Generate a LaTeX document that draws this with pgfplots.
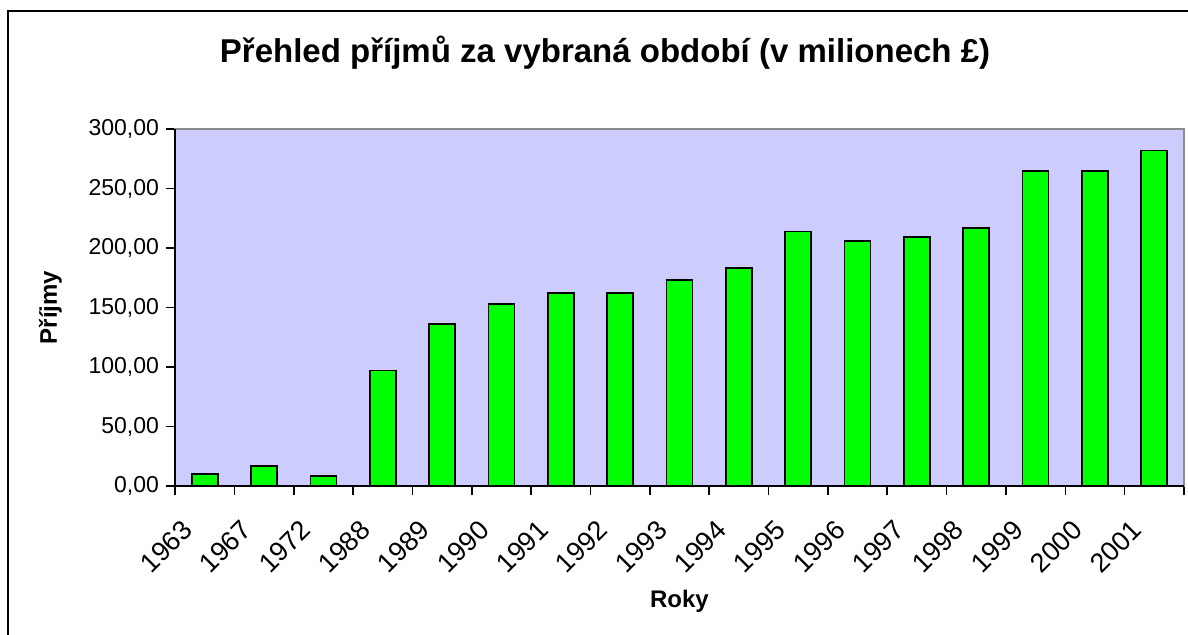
\documentclass[border=0pt]{standalone}
\usepackage{fontspec}
\setmainfont{Liberation Sans}
\usepackage{pgfplots}
\pgfplotsset{compat=1.18}
\definecolor{plotbg}{HTML}{CCCCFF}
\definecolor{barfill}{HTML}{00FF00}

\pgfplotstableread{
x year value
0 1963 10
1 1967 17
2 1972 8.5
3 1988 97
4 1989 136
5 1990 153
6 1991 162
7 1992 162
8 1993 173
9 1994 183
10 1995 214
11 1996 206
12 1997 209
13 1998 217
14 1999 265
15 2000 265
16 2001 282
}\prijmy

\begin{document}
\begin{tikzpicture}
% 1 px of the reference = 0.5pt; axis origin at px (175,486)
\useasboundingbox (-87.5pt,-74pt) rectangle (506.5pt,243pt);
\begin{axis}[
    scale only axis,
    width=504.5pt, height=178.5pt,
    xmin=-0.5, xmax=16.5,
    ymin=0, ymax=300,
    ytick={0,50,...,300},
    % ticks sit on the category borders, each label is moved to the middle of its category
    xtick={-0.5,0.5,...,16.5},
    xticklabels={1963,1967,1972,1988,1989,1990,1991,1992,1993,1994,1995,1996,1997,1998,1999,2000,2001,{}},
    x tick label style={font=\fontsize{13.5}{15}\selectfont, inner sep=0pt,
        xshift=6.3pt, yshift=-15pt, rotate=45, anchor=east},
    tick pos=left,
    tick align=outside,
    major tick length=4.5pt,
    tick style={black, line width=0.8pt},
    axis line style={draw=gray!90, line width=0.8pt},
    axis background/.style={fill=plotbg},
    /pgf/number format/assume math mode=true,
    y tick label style={font=\fontsize{11.5}{13}\selectfont,
      /pgf/number format/.cd, fixed, fixed zerofill, precision=2, use comma},
    xlabel={Roky},
    ylabel={Příjmy},
    xlabel style={font=\bfseries\fontsize{12}{14}\selectfont,
      at={(axis description cs:0.5,-0.339)}, anchor=base},
    ylabel style={font=\bfseries\fontsize{12}{14}\selectfont,
      at={(axis description cs:-0.117,0.5)}, anchor=base, rotate=0},
    title={Přehled příjmů za vybraná období (v milionech £)},
    title style={font=\bfseries\fontsize{16.5}{19}\selectfont,
      at={(axis description cs:0.4262,1.152)}, anchor=base},
    clip=false,
]
\addplot[ybar, bar width=0.438, fill=barfill, draw=black, line width=0.85pt]
  table[x=x, y=value] {\prijmy};
\draw[black, line width=1pt] (rel axis cs:0,1) -- (rel axis cs:0,0) -- (rel axis cs:1,0);
\end{axis}
\begin{scope}
\clip (-87.5pt,-74pt) rectangle (506.5pt,243pt);
\draw[black, line width=1pt] (-83.5pt,237.5pt) rectangle (530pt,-100pt);
\end{scope}
\end{tikzpicture}
\end{document}
